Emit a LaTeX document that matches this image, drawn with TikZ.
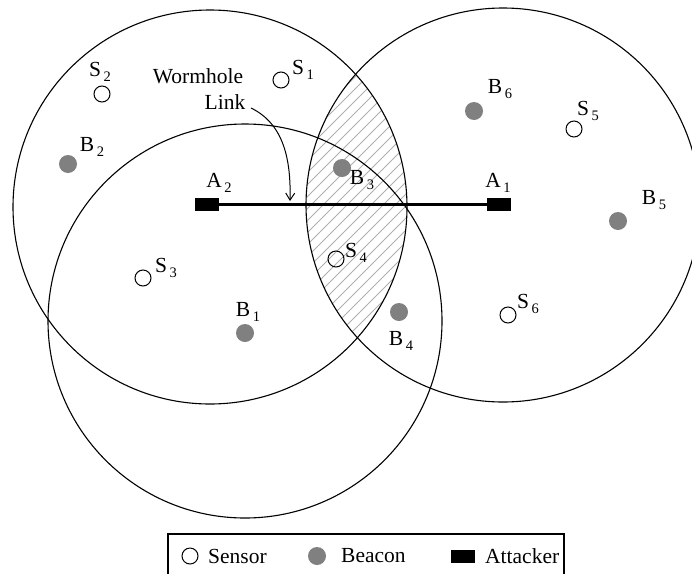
\documentclass[tikz,border=0pt]{standalone}
\usepackage{fontspec}
\setmainfont{Liberation Serif}
\usetikzlibrary{arrows.meta}
\definecolor{beacongray}{RGB}{128,128,128}
\definecolor{hatchgray}{RGB}{175,175,175}
% label with a spaced, lowered index (S 1, B 2, A 1 ...)
\newcommand\idx[2]{#1\kern2.5pt\raisebox{-5pt}{\fontsize{14.5}{14.5}\selectfont #2}}
\tikzset{
  sensor/.style={circle, draw, line width=1pt, minimum size=16pt, inner sep=0pt},
  beacon/.style={circle, fill=beacongray, minimum size=18pt, inner sep=0pt},
  attacker/.style={rectangle, fill=black, minimum width=24pt, minimum height=13pt, inner sep=0pt},
  lbl/.style={inner sep=0pt},
  radiorange/.style={line width=1.1pt},
  hatch/.style={hatchgray, line width=0.8pt},
  wormhole/.style={line width=3pt},
  pointer/.style={line width=1pt, -{Straight Barb[length=7pt,width=9pt]}},
}
\begin{document}
\begin{tikzpicture}[x=1pt, y=-1pt, font=\fontsize{21.5}{25}\selectfont]
\useasboundingbox (0,0) rectangle (692,573);
\clip (0,0) rectangle (692,573);

% radio ranges of the two attackers and of beacon B1
\coordinate (cl) at (210,207);
\coordinate (cr) at (503,205);
\coordinate (cb) at (245,321);

% hatched overlap of the two attacker ranges
\begin{scope}
  \clip (cl) circle[radius=197pt];
  \clip (cr) circle[radius=197pt];
  \foreach \c in {300,312,...,800}
    \draw[hatch] (\c,0) -- (\c-420,420);
\end{scope}

\draw[radiorange] (cl) circle[radius=197pt];
\draw[radiorange] (cr) circle[radius=197pt];
\draw[radiorange] (cb) circle[radius=197pt];

% sensors
\node[sensor] (s1) at (281,80) {};
\node[sensor] (s2) at (102,94) {};
\node[sensor] (s3) at (143,278) {};
\node[sensor] (s4) at (336,259) {};
\node[sensor] (s5) at (574,129) {};
\node[sensor] (s6) at (508,315) {};
\node[lbl] (s1l) at (303,70) {\idx{S}{1}};
\node[lbl] (s2l) at (100,72) {\idx{S}{2}};
\node[lbl] (s3l) at (166,268) {\idx{S}{3}};
\node[lbl] (s4l) at (356,253) {\idx{S}{4}};
\node[lbl] (s5l) at (588,111) {\idx{S}{5}};
\node[lbl] (s6l) at (528,304) {\idx{S}{6}};

% beacons
\node[beacon] (b1) at (245,333) {};
\node[beacon] (b2) at (68,164) {};
\node[beacon] (b3) at (342,168) {};
\node[beacon] (b4) at (399,312) {};
\node[beacon] (b5) at (618,221) {};
\node[beacon] (b6) at (474,111) {};
\node[lbl] (b1l) at (248,312) {\idx{B}{1}};
\node[lbl] (b2l) at (92,147) {\idx{B}{2}};
\node[lbl] (b3l) at (362,180) {\idx{B}{3}};
\node[lbl] (b4l) at (401,341) {\idx{B}{4}};
\node[lbl] (b5l) at (654,200) {\idx{B}{5}};
\node[lbl] (b6l) at (500,89) {\idx{B}{6}};

% attackers and the wormhole link between them
\node[attacker] (a2) at (207,204) {};
\node[attacker] (a1) at (499,204) {};
\node[lbl] (a2l) at (219,183) {\idx{A}{2}};
\node[lbl] (a1l) at (498,183) {\idx{A}{1}};
\draw[wormhole] (a2) -- (a1);

\node[lbl] (worm) at (198,76) {Wormhole};
\node[lbl] (link) at (225,102) {Link};
\coordinate (arrfrom) at (251,108);
\coordinate (arrto) at (290,201);
\draw[pointer] (arrfrom) .. controls (284,124) and (291,160) .. (arrto);

% legend
\draw[line width=1.2pt] (168,534) rectangle (564,580);
\node[sensor] (legs) at (190,556) {};
\node[lbl, anchor=west] (legst) at (208,556) {Sensor};
\node[beacon] (legb) at (317,556) {};
\node[lbl, anchor=west] (legbt) at (341,556) {Beacon};
\node[attacker] (lega) at (462.5,556) {};
\node[lbl, anchor=west] (legat) at (485,556) {Attacker};
\end{tikzpicture}
\end{document}
